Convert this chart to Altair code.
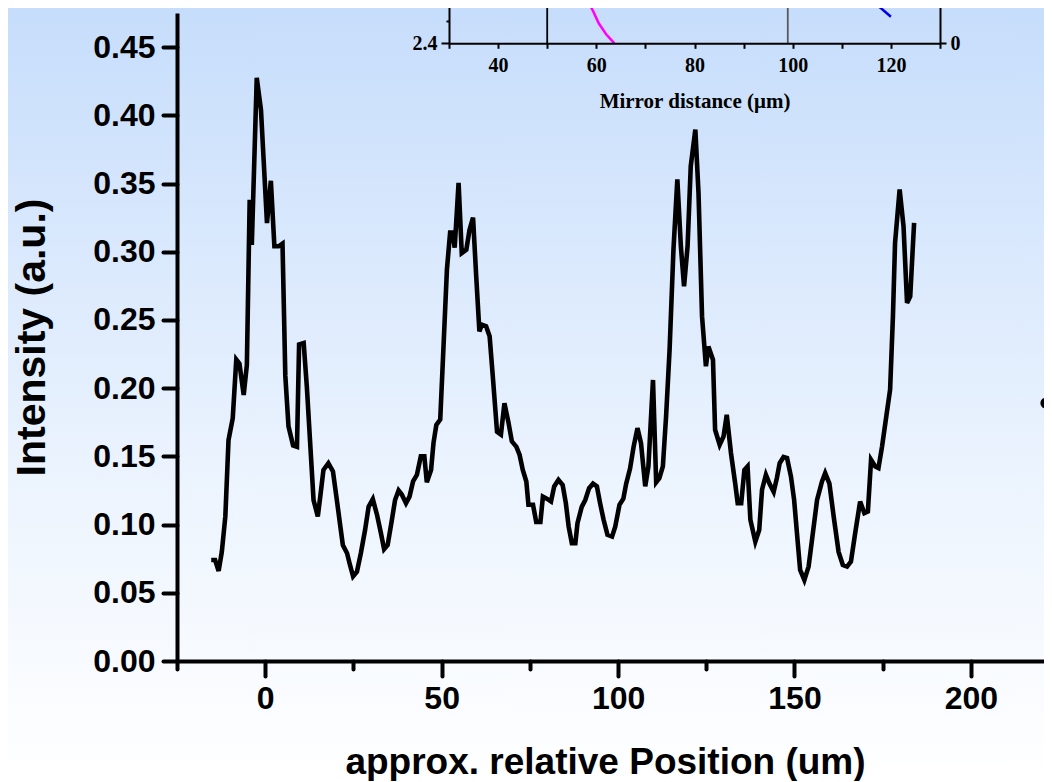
import altair as alt
import pandas as pd

# ---- main trace: approx. relative position (um) vs intensity (a.u.) ----
position = [-15.3, -14.2, -13.2, -12.3, -11.3, -10.4, -9.2, -8.2, -7.3, -6.1, -5.2, -4.4, -3.8, -2.4, -1.2,
            0.5, 1.6, 2.6, 3.8, 4.9, 5.7, 6.6, 7.9, 9.0, 9.6, 10.9, 11.8, 13.7, 14.9, 15.6, 16.5, 17.9,
            19.2, 20.3, 21.3, 22.0, 23.2, 23.9, 24.9, 26.0, 27.1, 28.3, 29.3, 30.5, 31.7, 32.8, 33.7,
            34.7, 35.9, 36.8, 37.8, 38.7, 39.9, 40.9, 41.9, 43.0, 44.1, 45.1, 45.8, 47.0, 47.7, 48.5,
            49.6, 50.4, 51.5, 52.4, 53.1, 53.7, 54.8, 55.7, 57.0, 57.9, 58.9, 59.8, 60.7, 61.4, 62.6,
            63.6, 64.5, 65.7, 66.8, 67.8, 69.0, 69.9, 71.2, 72.1, 73.0, 74.0, 74.6, 75.9, 76.8, 78.0,
            78.7, 79.8, 81.0, 81.9, 83.1, 84.3, 85.2, 86.0, 86.9, 87.9, 88.5, 89.7, 90.7, 91.8, 92.9,
            94.0, 94.9, 95.9, 97.0, 98.3, 99.2, 100.4, 101.5, 102.3, 103.4, 104.4, 105.5, 106.5, 107.7,
            108.6, 109.9, 110.8, 111.7, 112.7, 113.6, 114.6, 115.7, 116.8, 117.8, 118.7, 119.7, 120.6,
            121.9, 122.8, 123.8, 124.9, 125.6, 126.9, 127.5, 128.8, 129.9, 130.8, 132.0, 133.2, 133.9,
            134.9, 135.8, 136.7, 137.5, 138.9, 140.0, 140.8, 141.9, 142.9, 144.1, 145.0, 145.8, 146.9,
            147.9, 149.0, 149.9, 150.7, 151.6, 152.8, 154.0, 155.2, 156.4, 157.8, 158.7, 159.9, 161.1,
            162.5, 163.7, 164.9, 166.0, 167.2, 168.6, 169.8, 170.8, 171.7, 172.9, 173.8, 174.8, 176.0,
            177.1, 177.9, 178.5, 179.8, 180.9, 181.9, 182.8, 183.9]
intensity = [0.074, 0.074, 0.066, 0.080, 0.106, 0.162, 0.178, 0.221, 0.218, 0.195, 0.217, 0.338, 0.305, 0.4275, 0.404,
             0.321, 0.352, 0.304, 0.304, 0.306, 0.209, 0.172, 0.158, 0.157, 0.232, 0.233, 0.201, 0.118, 0.106, 0.1205, 0.140, 0.145,
             0.139, 0.118, 0.0985, 0.085, 0.079, 0.0717, 0.062, 0.0655, 0.079, 0.096, 0.113, 0.1186, 0.107, 0.0937, 0.082,
             0.085, 0.1035, 0.118, 0.125, 0.122, 0.1157, 0.1205, 0.1316, 0.1365, 0.150, 0.150, 0.131, 0.140, 0.160, 0.173,
             0.177, 0.223, 0.287, 0.314, 0.314, 0.303, 0.3505, 0.299, 0.3015, 0.316, 0.325, 0.282, 0.2416, 0.2465, 0.2453,
             0.238, 0.2086, 0.168, 0.166, 0.189, 0.174, 0.161, 0.157, 0.151, 0.140, 0.1316, 0.1145, 0.1145, 0.102, 0.102,
             0.1205, 0.119, 0.117, 0.128, 0.1328, 0.129, 0.1157, 0.0985, 0.0864, 0.0864, 0.101, 0.113, 0.118, 0.1267, 0.130,
             0.128, 0.1157, 0.1035, 0.0925, 0.0912, 0.0985, 0.1145, 0.119, 0.130, 0.141, 0.157, 0.1707, 0.1597, 0.128,
             0.1426, 0.206, 0.131, 0.134, 0.1426, 0.179, 0.228, 0.3016, 0.353, 0.304, 0.2746, 0.304, 0.3627,
             0.3896, 0.343, 0.2526, 0.216, 0.2306, 0.2208, 0.1695, 0.1585, 0.1646, 0.1805, 0.1524, 0.130, 0.1157,
             0.1157, 0.140, 0.1426, 0.1035, 0.0875, 0.096, 0.1255, 0.1365, 0.130, 0.124, 0.134, 0.145, 0.1495,
             0.1487, 0.1352, 0.118, 0.0937, 0.0668, 0.0594, 0.0692, 0.0937, 0.118, 0.1316, 0.1377, 0.130, 0.106,
             0.080, 0.0704, 0.0692, 0.0729, 0.0937, 0.1169, 0.1084, 0.1096, 0.1475, 0.1426, 0.1414, 0.157, 0.179,
             0.199, 0.2526, 0.3065, 0.3456, 0.3187, 0.2625, 0.2673, 0.3212]

# stray legend dot at the right edge
dot_pos = [221.2]
dot_int = [0.189]

# ---- inset: mirror distance (um) ----
magenta_x = [57.45, 58.2, 59.4, 60.5, 62.0, 63.7]
magenta_y = [2.85, 2.783, 2.68, 2.577, 2.48, 2.4]
blue_x = [113.8, 115.7, 118.0, 120.0]
blue_y = [2.85, 2.783, 2.71, 2.635]
rule_x = [50, 99]
rule_color = ["black", "#5a5a5a"]
inset_x_ticks = list(range(30, 131, 10))
inset_y_ticks = [2.4, 2.6, 2.8, 3.0]
x_ticks = list(range(-25, 226, 25))
y_ticks = [round(k * 0.025, 3) for k in range(0, 20)]

SANS = "Liberation Sans"
SERIF = "Liberation Serif"

PAD_L = 169
W, H = 867, 648
PX_PER_UNIT = 3.5285
X_MAX = -25 + W / PX_PER_UNIT
INSET_LEFT, INSET_RIGHT, INSET_BASE = 272, 763, 30.3

main_df = pd.DataFrame({"pos": position, "intensity": intensity})
dot_df = pd.DataFrame({"pos": dot_pos, "intensity": dot_int})

xscale = alt.Scale(domain=[-25, X_MAX], nice=False, zero=False)
yscale = alt.Scale(domain=[0, 0.475], nice=False)

xaxis = alt.Axis(
    values=x_ticks, labelExpr="datum.value % 50 === 0 ? datum.label : ''",
    tickSize={"condition": {"test": "datum.value % 50 === 0", "value": 15}, "value": 8},
    tickWidth=4, tickColor="black", tickCap="round", domainWidth=4, domainColor="black",
    labelFont=SANS, labelFontWeight="bold", labelFontSize=32, labelColor="black", labelPadding=7,
    labelFlush=False, labelOverlap=False,
    title="approx. relative Position (um)", titleFont=SANS, titleFontWeight="bold", titleFontSize=37,
    titleColor="black", titleBaseline="alphabetic", titleY=112, titleX=428, grid=False, zindex=2,
)
yaxis = alt.Axis(
    values=y_ticks, labelExpr="round(datum.value*40) % 2 === 0 ? format(datum.value, '.2f') : ''",
    tickSize={"condition": {"test": "round(datum.value*40) % 2 === 0", "value": 14}, "value": 7},
    tickWidth=4, tickColor="black", tickCap="round", domainWidth=4, domainColor="black",
    labelFont=SANS, labelFontWeight="bold", labelFontSize=32, labelColor="black", labelPadding=8,
    labelFlush=False, labelOverlap=False,
    title="Intensity (a.u.)", titleFont=SANS, titleFontWeight="bold", titleFontSize=41,
    titleColor="black", titleBaseline="alphabetic", titleX=-133, grid=False, zindex=2,
)

main_line = alt.Chart(main_df).mark_line(color="black", strokeWidth=4.6).encode(
    x=alt.X("pos:Q", scale=xscale, axis=xaxis),
    y=alt.Y("intensity:Q", scale=yscale, axis=yaxis),
    order="pos:Q",
)
dot = alt.Chart(dot_df).mark_circle(color="black", size=115, opacity=1).encode(
    x=alt.X("pos:Q", scale=xscale), y=alt.Y("intensity:Q", scale=yscale)
)
main = alt.layer(main_line, dot)

# inset scales placed by pixel range inside the plot area
ix_scale = alt.Scale(domain=[30, 130], range=[INSET_LEFT, INSET_RIGHT], nice=False, zero=False)
iy_scale = alt.Scale(domain=[2.4, 3.0], range=[INSET_BASE, -37.5], nice=False, zero=False)

ix_axis = alt.Axis(
    orient="bottom", offset=-(H - INSET_BASE), values=inset_x_ticks,
    labelExpr="datum.value % 20 === 0 ? datum.label : ''",
    tickSize=5, tickWidth=2, tickColor="black", domainWidth=2, domainColor="black",
    labelFont=SERIF, labelFontWeight="bold", labelFontSize=20, labelColor="black", labelPadding=7,
    labelFlush=False, labelOverlap=False,
    title="Mirror distance (μm)", titleFont=SERIF, titleFontWeight="bold", titleFontSize=21,
    titleColor="black", titleBaseline="alphabetic", titleY=64, grid=False, zindex=2,
)
iy_axis = alt.Axis(
    orient="left", offset=-INSET_LEFT, values=inset_y_ticks,
    labelExpr="abs(datum.value - 2.6) < 0.01 || datum.value > 2.9 ? '' : format(datum.value, '.1f')",
    tickSize={"condition": {"test": "abs(datum.value - 2.6) < 0.01", "value": 3}, "value": 8},
    tickWidth=2, tickColor="black", domainWidth=2, domainColor="black",
    labelFont=SERIF, labelFontWeight="bold", labelFontSize=20, labelColor="black", labelPadding=4,
    labelFlush=False, labelOverlap=False, title=None, grid=False, zindex=2,
)

mag_df = pd.DataFrame({"mx": magenta_x, "my": magenta_y})
blue_df = pd.DataFrame({"mx": blue_x, "my": blue_y})
rule_df = pd.DataFrame({"mx": rule_x, "my": [2.4, 2.4], "my2": [3.0, 3.0], "c": rule_color})

mag = alt.Chart(mag_df).mark_line(color="#ff00ff", strokeWidth=2.5).encode(
    x=alt.X("mx:Q", scale=ix_scale, axis=ix_axis),
    y=alt.Y("my:Q", scale=iy_scale, axis=iy_axis),
    order="my:Q",
)
blu = alt.Chart(blue_df).mark_line(color="#0000ee", strokeWidth=2.5).encode(
    x=alt.X("mx:Q", scale=ix_scale), y=alt.Y("my:Q", scale=iy_scale), order="my:Q",
)
rules = alt.Chart(rule_df).mark_rule(strokeWidth=1.8).encode(
    x=alt.X("mx:Q", scale=ix_scale), y=alt.Y("my:Q", scale=iy_scale), y2="my2:Q",
    color=alt.Color("c:N", scale=None),
)
inset = alt.layer(rules, mag, blu)

right_df = pd.DataFrame({"r": [0.0]})
right_axis = alt.Chart(right_df).mark_point(opacity=0).encode(
    y=alt.Y("r:Q", scale=alt.Scale(domain=[0, 1], range=[INSET_BASE, -37.5], nice=False),
            axis=alt.Axis(orient="right", offset=-(W - INSET_RIGHT), values=[0], tickSize=6,
                          tickWidth=2, tickColor="black", domainWidth=2, domainColor="black",
                          labelFont=SERIF, labelFontWeight="bold", labelFontSize=20,
                          labelColor="black", labelPadding=4, title=None, grid=False, zindex=2))
)

bg_df = pd.DataFrame({"a": [0]})
gradient = {
    "gradient": "linear", "x1": 0, "x2": 0, "y1": 0, "y2": 1,
    "stops": [
        {"offset": 0.0, "color": "#c6ddfb"},
        {"offset": 0.35, "color": "#dceafd"},
        {"offset": 0.65, "color": "#eef5fe"},
        {"offset": 0.9, "color": "#fafcff"},
        {"offset": 1.0, "color": "#ffffff"},
    ],
}
bg = alt.Chart(bg_df).mark_rect(color=gradient, opacity=1).encode(
    x=alt.value(-PAD_L), x2=alt.value(W), y=alt.value(-5), y2=alt.value(H + 120)
)

chart = alt.layer(bg, main, inset, right_axis).resolve_scale(
    x="independent", y="independent"
).properties(
    width=W, height=H,
    padding={"left": PAD_L, "top": 5, "right": 0, "bottom": 120},
    autosize=alt.AutoSizeParams(type="none"),
).configure_view(stroke=None).configure(background="white")

chart.save("out.html", embed_options={"renderer": "svg", "actions": False})
